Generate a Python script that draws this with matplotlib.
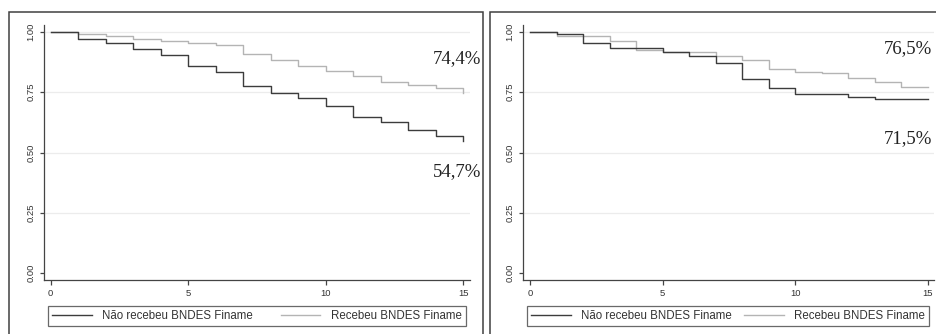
import matplotlib
matplotlib.use("Agg")
import matplotlib.pyplot as plt
from matplotlib.patches import Rectangle
from matplotlib.lines import Line2D

# ---------------- data ----------------
years = list(range(0, 16))

left_nao = [1.0, 0.971, 0.953, 0.930, 0.905, 0.859, 0.833, 0.777, 0.748,
            0.726, 0.694, 0.646, 0.628, 0.592, 0.569, 0.549]
left_rec = [1.0, 0.990, 0.981, 0.971, 0.961, 0.953, 0.943, 0.907, 0.884,
            0.857, 0.837, 0.817, 0.790, 0.781, 0.767, 0.748]

right_nao = [1.0, 0.989, 0.952, 0.934, 0.934, 0.914, 0.898, 0.870, 0.806,
             0.769, 0.741, 0.741, 0.731, 0.722, 0.722, 0.720]
right_rec = [1.0, 0.982, 0.982, 0.961, 0.926, 0.914, 0.914, 0.898, 0.881,
             0.846, 0.835, 0.828, 0.808, 0.790, 0.773, 0.770]

left_labels = ["74,4%", "54,7%"]
right_labels = ["76,5%", "71,5%"]

series_names = ["Não recebeu BNDES Finame", "Recebeu BNDES Finame"]
xticks = [0, 5, 10, 15]
yticks = [0.0, 0.25, 0.5, 0.75, 1.0]
ytick_labels = ["0.00", "0.25", "0.50", "0.75", "1.00"]

# ---------------- figure ----------------
W, H = 937, 334
fig = plt.figure(figsize=(W / 100, H / 100), dpi=100)
fig.patch.set_facecolor("white")

DARK = "#3c3c3c"
LIGHT = "#b4b4b4"
AXC = "#444444"
GRID = "#ececec"


def px_rect(x0, x1, ytop, ybot):
    return [x0 / W, 1 - ybot / H, (x1 - x0) / W, (ybot - ytop) / H]


def make_panel(x_spine, x_right, x0px, x15px, nao, rec, labels, label_pos):
    ytop, ybot = 25.0, 280.0
    y0px, y1px = 273.3, 31.7
    ppu_y = (y0px - y1px)
    ax = fig.add_axes(px_rect(x_spine, x_right, ytop, ybot))
    ppu_x = (x15px - x0px) / 15.0
    ax.set_xlim(-(x0px - x_spine) / ppu_x, 15 + (x_right - x15px) / ppu_x)
    ax.set_ylim(-(ybot - y0px) / ppu_y, (y0px - ytop) / ppu_y)

    for v in yticks[1:]:
        ax.axhline(v, color=GRID, lw=0.9, zorder=0)

    ax.step(years, nao, where="post", color=DARK, lw=1.0, zorder=3)
    ax.step(years, rec, where="post", color=LIGHT, lw=1.0, zorder=2)

    for s in ["top", "right"]:
        ax.spines[s].set_visible(False)
    for s in ["left", "bottom"]:
        ax.spines[s].set_color(AXC)
        ax.spines[s].set_linewidth(0.9)

    ax.set_xticks(xticks)
    ax.set_xticklabels([str(t) for t in xticks])
    ax.set_yticks(yticks)
    ax.set_yticklabels(ytick_labels, rotation=90, va="center")
    ax.tick_params(axis="both", colors=AXC, labelcolor="#333333",
                   labelsize=6.8, width=0.9)
    ax.tick_params(axis="x", length=3.6, pad=3)
    ax.tick_params(axis="y", length=3.0, pad=3)
    for lab in ax.get_xticklabels() + ax.get_yticklabels():
        lab.set_fontfamily("Liberation Sans")

    # legend
    handles = [Line2D([], [], color=DARK, lw=1.0),
               Line2D([], [], color=LIGHT, lw=1.0)]
    lx0 = x_spine + 4.3
    lx1 = x_right - 4.3
    bb = (lx0 / W, 1 - 325.7 / H, (lx1 - lx0) / W, 20.0 / H)
    leg = fig.legend(handles, series_names, ncol=2, loc="lower left",
                     bbox_to_anchor=bb, bbox_transform=fig.transFigure,
                     mode="expand", frameon=True, fancybox=False,
                     edgecolor=AXC, borderpad=0.35, handlelength=3.4,
                     handletextpad=0.95, borderaxespad=0.0,
                     prop={"family": "Liberation Sans", "size": 8.3})
    leg.get_frame().set_linewidth(0.9)
    for t in leg.get_texts():
        t.set_color("#333333")

    for text, (xr, yb) in zip(labels, label_pos):
        fig.text(xr / W, 1 - yb / H, text, ha="right", va="baseline",
                 fontfamily="Liberation Serif", fontsize=13.5, color="#222222")
    return ax


make_panel(44.0, 470.0, 50.7, 463.3, left_nao, left_rec, left_labels,
           [(481.0, 62.7), (481.0, 175.7)])
make_panel(523.0, 933.7, 530.0, 928.0, right_nao, right_rec, right_labels,
           [(932.0, 53.3), (932.0, 143.3)])

# outer panel frames
for x0, x1 in [(9.3, 483.0), (489.7, 945.0)]:
    fig.patches.append(Rectangle((x0 / W, -0.05), (x1 - x0) / W,
                                 1.05 - 11.7 / H, transform=fig.transFigure,
                                 fill=False, edgecolor="#404040", lw=1.1))

fig.savefig("out.png", dpi=100)
